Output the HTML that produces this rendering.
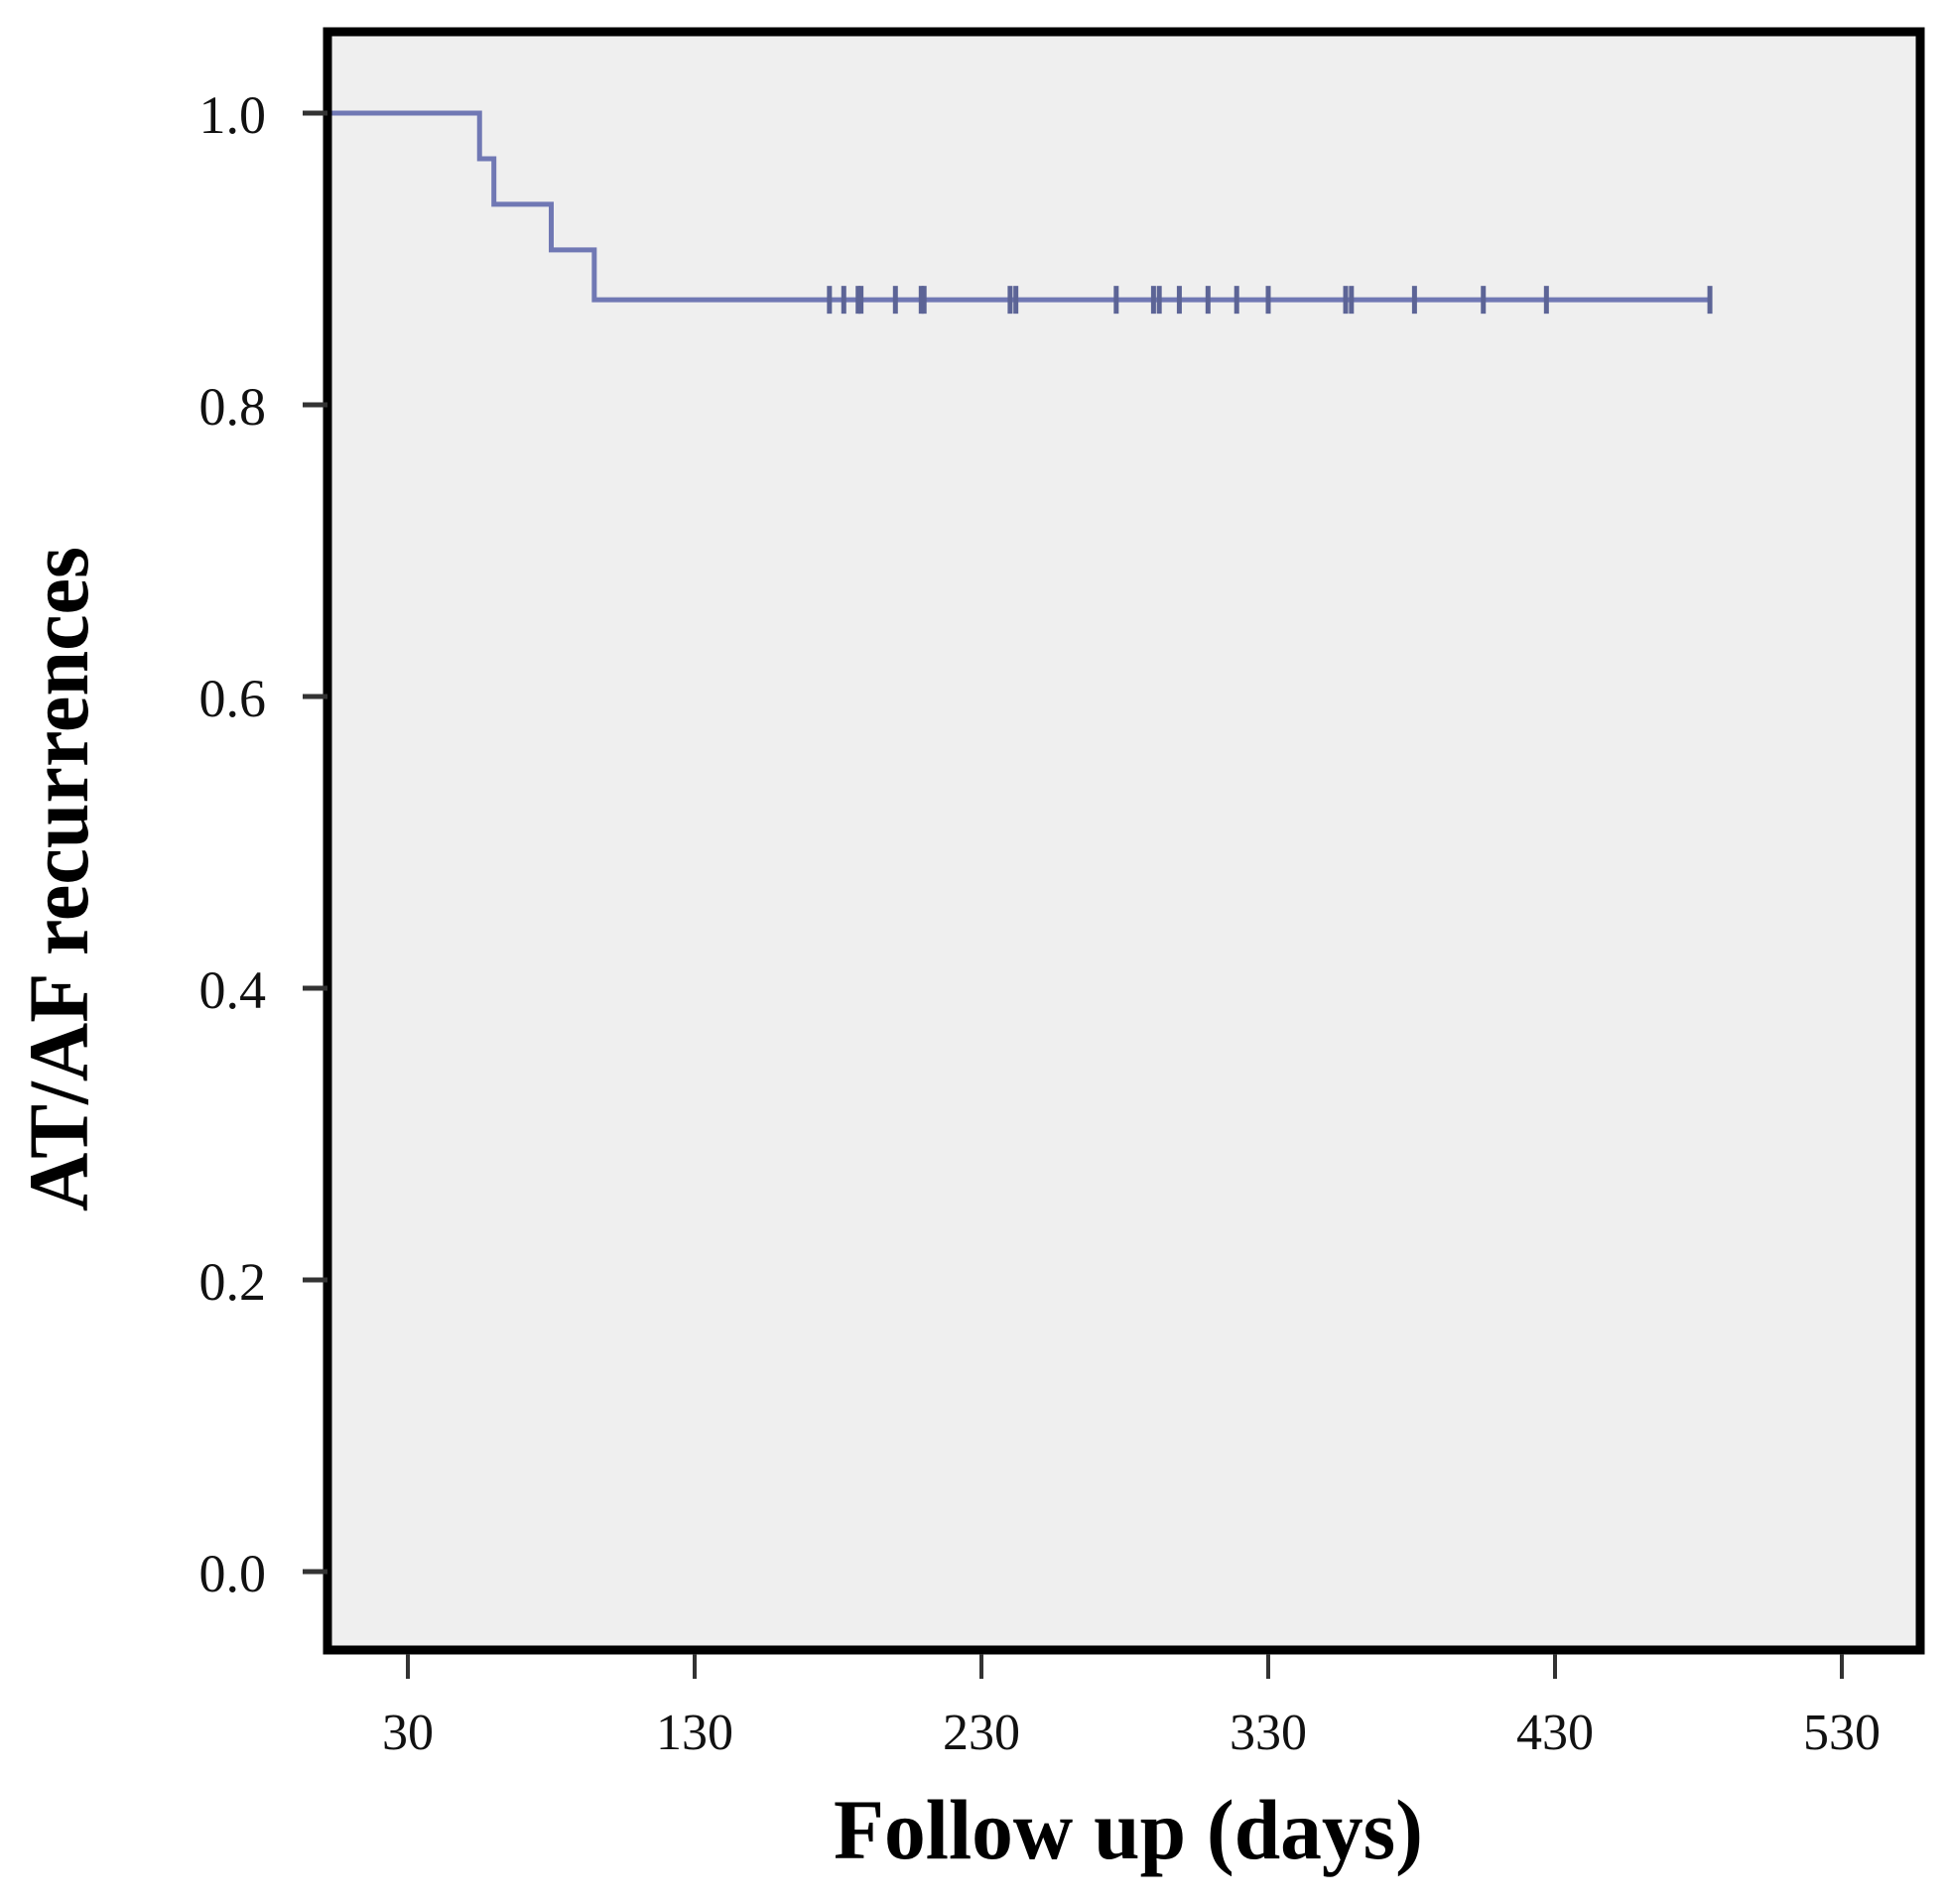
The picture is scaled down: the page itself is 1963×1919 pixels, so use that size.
<!DOCTYPE html>
<html><head><meta charset="utf-8">
<style>html,body{margin:0;padding:0;background:#fff;}svg{display:block;}</style>
</head><body>
<svg id="chart" width="1963" height="1919" viewBox="0 0 1963 1919" xmlns="http://www.w3.org/2000/svg">
<rect x="330" y="32" width="1605" height="1631" fill="#efefef"/>
<g id="series"></g>
<rect x="330" y="32" width="1605" height="1631" fill="none" stroke="#000" stroke-width="9"/>
<g id="axes"></g>
<text transform="translate(88,886) rotate(-90)" text-anchor="middle" font-family="'Liberation Serif',serif" font-weight="bold" font-size="86" textLength="670" lengthAdjust="spacingAndGlyphs">AT/AF recurrences</text>
<text x="1137" y="1873" text-anchor="middle" font-family="'Liberation Serif',serif" font-weight="bold" font-size="86" textLength="594" lengthAdjust="spacingAndGlyphs">Follow up (days)</text>
</svg>
<script>
const xTicks = [30, 130, 230, 330, 430, 530];
const yTicks = [0.0, 0.2, 0.4, 0.6, 0.8, 1.0];
const yTickLabels = ["0.0", "0.2", "0.4", "0.6", "0.8", "1.0"];
const stepTimes = [2, 55, 60, 80, 95];
const stepSurvival = [1.0, 0.96875, 0.9375, 0.90625, 0.872];
const endTime = 484;
const censorTimes = [177, 182, 187, 188, 200, 209, 210, 240, 242, 277, 290, 292, 299, 309, 319, 330, 357, 359, 381, 405, 427, 484];
const censorSurvival = 0.872;

const NS = "http://www.w3.org/2000/svg";
function xs(d){ return 411 + (d - 30) * 2.89; }
function ys(v){ return 1584 - v * 1470; }
function mk(tag, attrs, parent){ const e=document.createElementNS(NS,tag); for(const k in attrs) e.setAttribute(k,attrs[k]); parent.appendChild(e); return e; }

const axes = document.getElementById('axes');
const series = document.getElementById('series');

xTicks.forEach(t=>{
  const l = mk('line',{x1:xs(t),x2:xs(t),y1:1667,y2:1692,stroke:'#333','stroke-width':4},axes);
  
  
  const tx = mk('text',{x:xs(t),y:1763,'text-anchor':'middle','font-family':"'Liberation Serif',serif",'font-size':52,fill:'#111'},axes);
  tx.textContent = t;
  
  
});
yTicks.forEach((t,i)=>{
  const l = mk('line',{x1:305,x2:330,y1:ys(t),y2:ys(t),stroke:'#333','stroke-width':5},axes);
  
  
  const tx = mk('text',{x:268,y:ys(t)+20,'text-anchor':'end','font-family':"'Liberation Serif',serif",'font-size':54,fill:'#111'},axes);
  tx.textContent = yTickLabels[i];
  
  
});

let d = '';
for(let i=0;i<stepTimes.length;i++){
  const x = xs(stepTimes[i]);
  if(i===0) d += 'M'+x+' '+ys(stepSurvival[0]);
  else d += ' L'+x+' '+ys(stepSurvival[i-1])+' L'+x+' '+ys(stepSurvival[i]);
}
d += ' L'+xs(endTime)+' '+ys(stepSurvival[stepSurvival.length-1]);
const p = mk('path',{d:d,fill:'none',stroke:'#7078b4','stroke-width':5},series);



censorTimes.forEach(t=>{
  const c = mk('line',{x1:xs(t),x2:xs(t),y1:ys(censorSurvival)-14,y2:ys(censorSurvival)+14,stroke:'#5c6496','stroke-width':5},series);
  
  
});
</script>
</body></html>
